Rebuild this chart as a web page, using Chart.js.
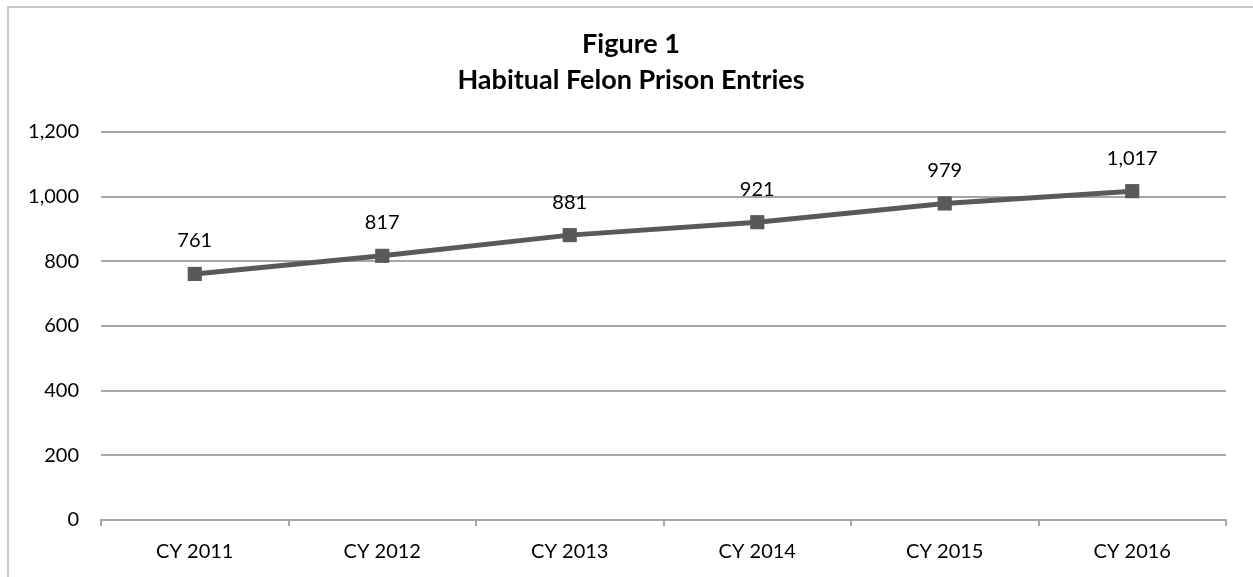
<!doctype html>
<html>
    <head>
        <meta charset="utf-8">
        <script src="https://cdn.jsdelivr.net/npm/chart.js@4"></script>
        <style>
            body {
                margin: 0px;
                background-color: white;
                overflow: hidden;
            }

            .frame {
                position: absolute;
                left: 7px;
                top: 6px;
                width: 1300px;
                height: 650px;
                border-left: 2px solid #c8c8c8;
                border-top: 2px solid #c8c8c8;
            }

            .holder {
                position: absolute;
                left: 0px;
                top: 0px;
                width: 1262px;
                height: 577px;
            }
        </style>
    </head>
    <body>
        <div class="frame"></div>
        <div class="holder">
            <canvas id="myChart"></canvas>
        </div>

        <script>
        const years = ['CY 2011', 'CY 2012', 'CY 2013', 'CY 2014', 'CY 2015', 'CY 2016'];
        const entries = [761, 817, 881, 921, 979, 1017];
        const titleLines = ['Figure 1', 'Habitual Felon Prison Entries'];

        const fontName = 'Lato';

        // labels above each point, like the excel data labels
        const pointLabels = {
            id: 'pointLabels',
            afterDatasetsDraw(chart) {
                const ctx = chart.ctx;
                const meta = chart.getDatasetMeta(0);
                ctx.save();
                ctx.font = '20px ' + fontName;
                ctx.fillStyle = '#000';
                ctx.textAlign = 'center';
                ctx.textBaseline = 'middle';
                meta.data.forEach(function(pt, i) {
                    ctx.fillText(entries[i].toLocaleString('en-US'), pt.x, pt.y - 33);
                });
                ctx.restore();
            }
        };

        const myChart = new Chart(document.getElementById('myChart'), {
            type: 'line',
            data: {
                labels: years,
                datasets: [{
                    data: entries,
                    borderColor: '#595959',
                    backgroundColor: '#595959',
                    borderWidth: 5,
                    pointStyle: 'rect',
                    pointRadius: 10,
                    pointHoverRadius: 10,
                    pointBorderWidth: 0,
                    tension: 0
                }]
            },
            options: {
                responsive: true,
                maintainAspectRatio: false,
                animation: false,
                layout: {
                    padding: 0
                },
                plugins: {
                    legend: { display: false },
                    tooltip: { enabled: false },
                    title: {
                        display: true,
                        text: titleLines,
                        color: '#000',
                        font: { family: fontName, size: 27, weight: 'bold', lineHeight: 1.333 },
                        padding: { top: 26, bottom: 34 }
                    }
                },
                scales: {
                    x: {
                        offset: true,
                        grid: {
                            offset: true,
                            drawOnChartArea: false,
                            drawTicks: true,
                            tickLength: 6,
                            color: '#a6a6a6',
                            lineWidth: 2
                        },
                        border: { display: true, color: '#a6a6a6', width: 2 },
                        ticks: {
                            color: '#000',
                            font: { family: fontName, size: 20 },
                            padding: 14,
                            maxRotation: 0
                        },
                        afterFit: function(scale) { scale.height = 57; }
                    },
                    y: {
                        min: 0,
                        max: 1200,
                        ticks: {
                            stepSize: 200,
                            color: '#000',
                            font: { family: fontName, size: 20 },
                            padding: 22,
                            callback: function(v) { return v.toLocaleString('en-US'); }
                        },
                        grid: {
                            color: '#a6a6a6',
                            lineWidth: 2,
                            drawTicks: false
                        },
                        border: { display: false },
                        afterFit: function(scale) { scale.width = 101; }
                    },
                    // empty space on the right so the plot ends where excel's did
                    spacer: {
                        position: 'right',
                        min: 0,
                        max: 1200,
                        grid: { display: false },
                        border: { display: false },
                        ticks: { display: false },
                        afterFit: function(scale) { scale.width = 36; }
                    }
                }
            },
            plugins: [pointLabels]
        });
        </script>
    </body>
</html>
